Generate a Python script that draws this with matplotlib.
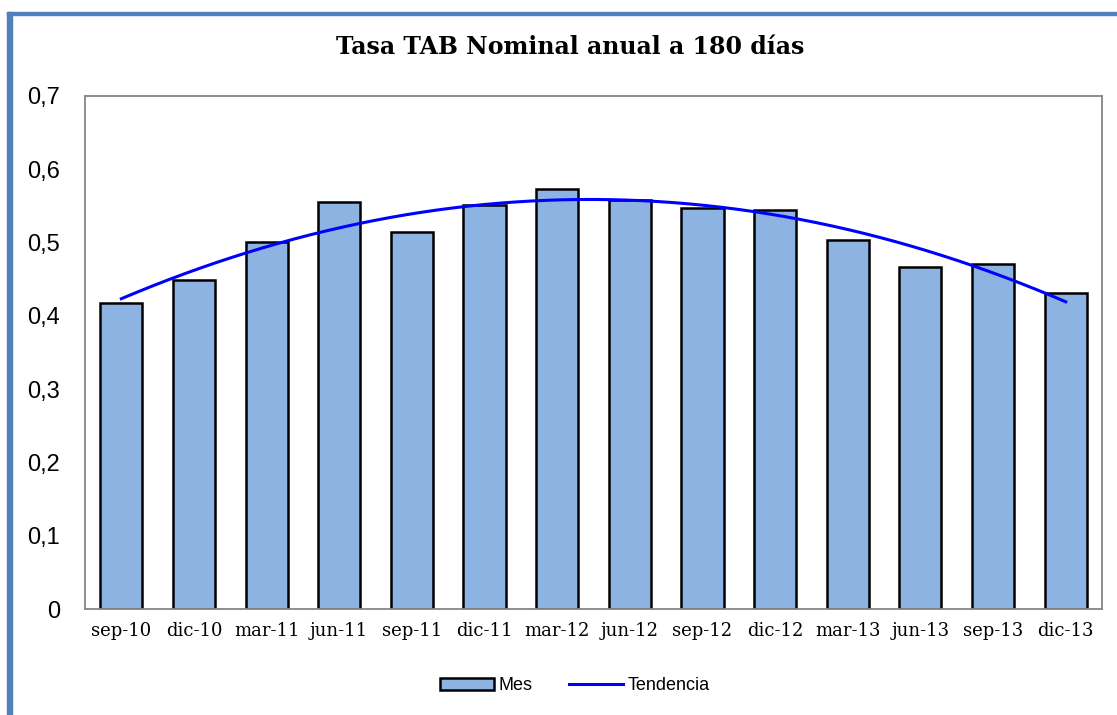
import numpy as np
import matplotlib
matplotlib.use("Agg")
import matplotlib.pyplot as plt
from matplotlib.patches import Rectangle
from matplotlib.ticker import FuncFormatter, MultipleLocator

categories = ["sep-10", "dic-10", "mar-11", "jun-11", "sep-11", "dic-11", "mar-12",
              "jun-12", "sep-12", "dic-12", "mar-13", "jun-13", "sep-13", "dic-13"]
mes = [0.418, 0.449, 0.501, 0.555, 0.515, 0.551, 0.573,
       0.558, 0.547, 0.545, 0.503, 0.466, 0.471, 0.431]
title = "Tasa TAB Nominal anual a 180 días"

fig = plt.figure(figsize=(11.17, 7.15), dpi=100)
ax = fig.add_axes([85/1117, 1-609/715, (1102-85)/1117, (609-96)/715])

x = np.arange(len(categories))
bars = ax.bar(x, mes, width=0.58, color="#8DB3E2", edgecolor="black", linewidth=1.8,
              label="Mes", zorder=2)

# polynomial (order 2) trendline, as Excel does
coef = np.polyfit(x, mes, 2)
xt = np.linspace(0, len(categories)-1, 300)
line, = ax.plot(xt, np.polyval(coef, xt), color="#0000FF", linewidth=2.2,
                label="Tendencia", zorder=3)

ax.set_xlim(-0.5, len(categories)-0.5)
ax.set_ylim(0, 0.7)
ax.yaxis.set_major_locator(MultipleLocator(0.1))
ax.yaxis.set_major_formatter(FuncFormatter(lambda v, p: "0" if abs(v) < 1e-9 else f"{v:.1f}".replace(".", ",")))
ax.set_xticks(x)
ax.set_xticklabels(categories, fontfamily="DejaVu Serif", fontsize=13)
for lab in ax.get_yticklabels():
    lab.set_fontfamily("Liberation Sans")
    lab.set_fontsize(17)
ax.tick_params(axis="y", length=0, pad=18)
ax.tick_params(axis="x", length=0, pad=9)
for s in ax.spines.values():
    s.set_color("#868686")
    s.set_linewidth(1.3)

fig.text(570/1117, 1-47/715, title, ha="center", va="center",
         fontfamily="DejaVu Serif", fontweight="bold", fontsize=17)

fig.legend([bars, line], ["Mes", "Tendencia"], loc="center",
           bbox_to_anchor=(575/1117, 1-686/715), ncol=2,
           frameon=False, prop={"family": "Liberation Sans", "size": 13},
           handlelength=3.0, handleheight=0.6, handletextpad=0.25, columnspacing=2.0)

# blue frame edges (left and top)
fig.add_artist(Rectangle((7/1117, 0), 5/1117, 1-12/715, transform=fig.transFigure,
                         color="#4F81BD", zorder=10))
fig.add_artist(Rectangle((7/1117, 1-15/715), 1, 3/715, transform=fig.transFigure,
                         color="#4F81BD", zorder=10))

fig.savefig("out.png", dpi=100)
